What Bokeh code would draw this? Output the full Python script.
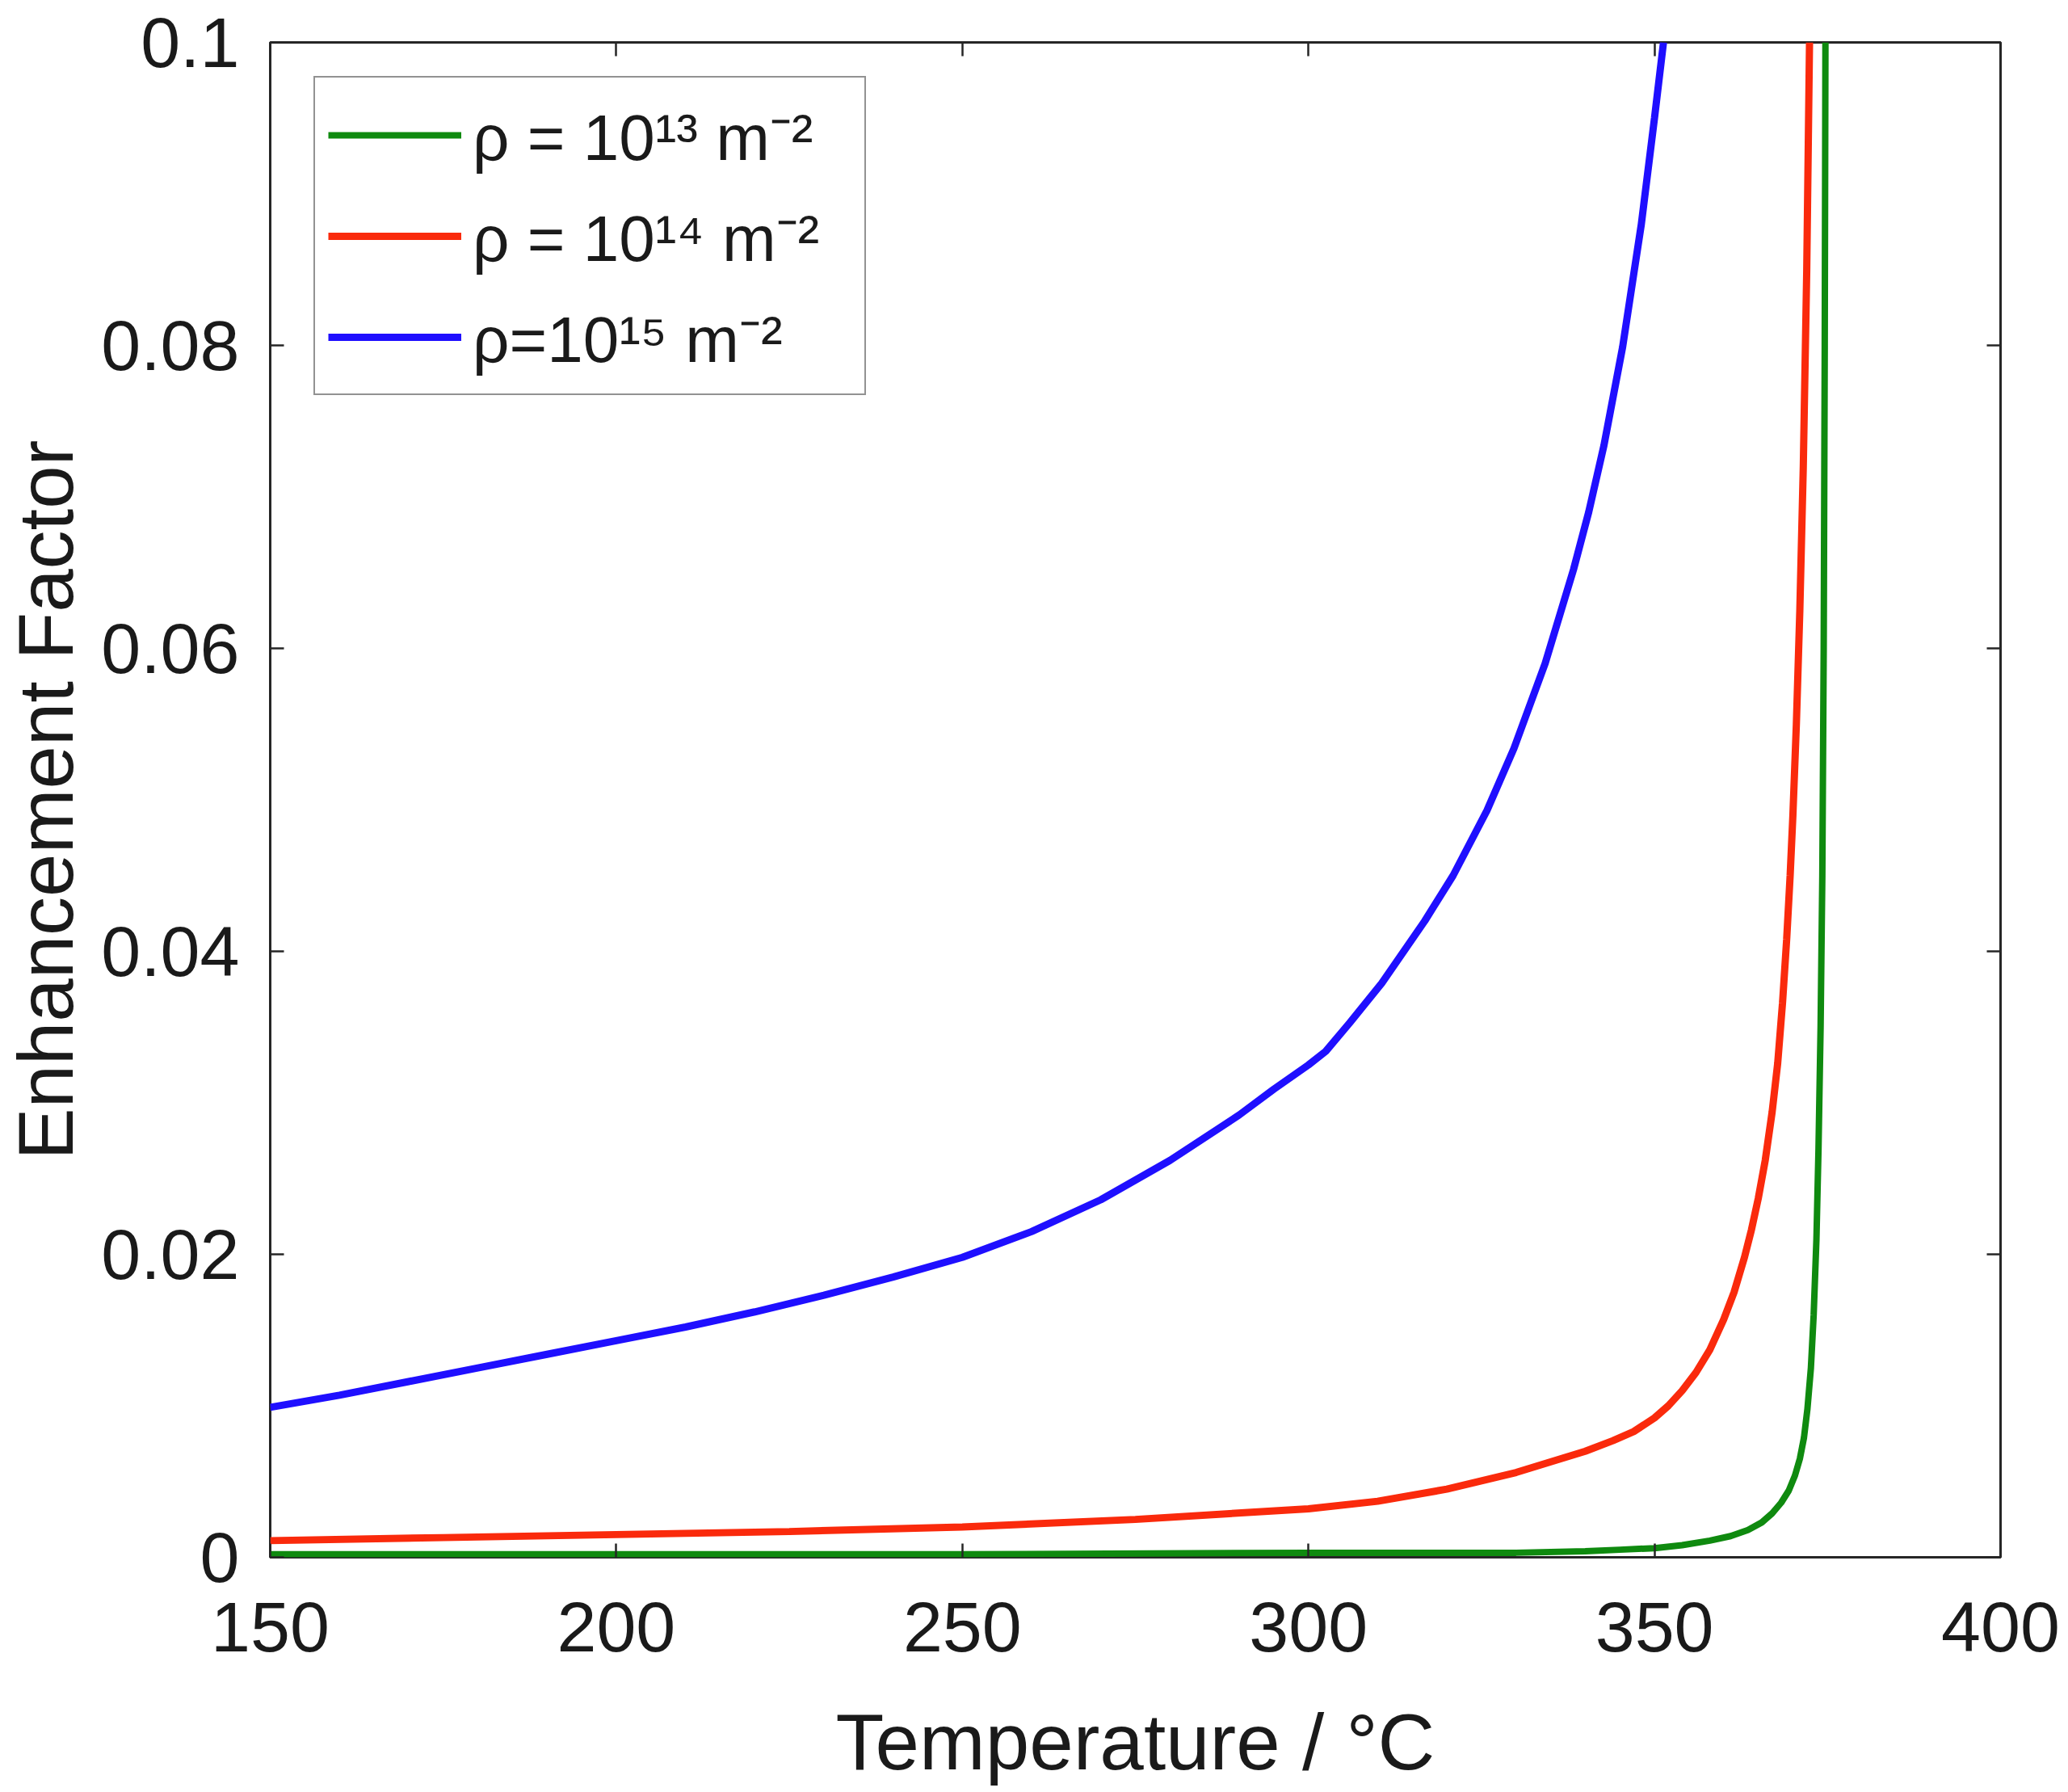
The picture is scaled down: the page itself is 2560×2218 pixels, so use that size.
from bokeh.plotting import figure
from bokeh.models import (LinearAxis, FixedTicker, NumeralTickFormatter, Legend,
                          LegendItem, Range1d)
from bokeh.embed import file_html
from bokeh.resources import INLINE

# ---- data ----
T_green = [150, 200, 250, 300, 330, 340, 345, 350, 354, 358, 361, 363.5, 365.5, 367,
           368.3, 369.4, 370.3, 371.0, 371.6, 372.1, 372.6, 373.0, 373.4, 373.7, 374.0,
           374.25, 374.45, 374.6, 374.7]
E_green = [0.0002, 0.0002, 0.0002, 0.0003, 0.0003, 0.0004, 0.0005, 0.0006, 0.0008,
           0.0011, 0.0014, 0.0018, 0.0023, 0.0029, 0.0036, 0.0044, 0.0054, 0.0065,
           0.0079, 0.0098, 0.0125, 0.0160, 0.0210, 0.0270, 0.0350, 0.0450, 0.0600,
           0.0800, 0.1000]

T_red = [150, 175, 200, 225, 250, 275, 300, 310, 320, 330, 340, 344, 347, 350, 352, 354,
         356, 358, 360, 361.5, 363, 364, 365, 366, 367, 367.8, 368.5, 369.1, 369.6, 370.0,
         370.5, 371.0, 371.5, 372.0, 372.4]
E_red = [0.0011, 0.0013, 0.0015, 0.0017, 0.0020, 0.0025, 0.0032, 0.0037, 0.0045, 0.0056,
         0.0070, 0.0077, 0.0083, 0.0092, 0.0100, 0.0110, 0.0122, 0.0137, 0.0157, 0.0175,
         0.0198, 0.0216, 0.0237, 0.0262, 0.0294, 0.0326, 0.0366, 0.0408, 0.0450, 0.0490,
         0.0550, 0.0625, 0.0720, 0.0850, 0.1000]

T_blue = [150, 160, 170, 180, 190, 200, 210, 220, 230, 240, 250, 260, 270, 280, 290, 295,
          300, 302.5, 306, 310.6, 316.8, 320.9, 325.8, 329.7, 334.2, 338.3, 340.5, 342.7,
          345.4, 348.1, 350.0, 351.3]
E_blue = [0.0099, 0.0107, 0.0116, 0.0125, 0.0134, 0.0143, 0.0152, 0.0162, 0.0173, 0.0185,
          0.0198, 0.0215, 0.0236, 0.0262, 0.0292, 0.0309, 0.0325, 0.0334, 0.0353, 0.0379,
          0.0420, 0.0450, 0.0493, 0.0534, 0.0590, 0.0652, 0.0690, 0.0734, 0.0799, 0.0880,
          0.0950, 0.1000]

labels = ["ρ = 10¹³ m⁻²", "ρ = 10¹⁴ m⁻²", "ρ=10¹⁵ m⁻²"]
colors = ["#0f8a0f", "#fa2a0c", "#1f0fff"]

x_ticks = [150, 200, 250, 300, 350, 400]
y_ticks = [0, 0.02, 0.04, 0.06, 0.08, 0.1]

FONT = "Liberation Sans"
TXT = "#1a1a1a"
FRAME = "#262626"

p = figure(frame_width=2142, frame_height=1875,
           x_range=Range1d(150, 400), y_range=Range1d(0, 0.1),
           output_backend="svg", toolbar_location=None,
           min_border_left=330, min_border_right=80,
           min_border_top=52, min_border_bottom=290,
           background_fill_color="white", border_fill_color="white")
p.grid.visible = False
p.outline_line_color = FRAME
p.outline_line_width = 3

rg = p.line(T_green, E_green, line_color=colors[0], line_width=8)
rr = p.line(T_red, E_red, line_color=colors[1], line_width=9)
rb = p.line(T_blue, E_blue, line_color=colors[2], line_width=9)

xb = p.xaxis[0]
yl = p.yaxis[0]
xb.ticker = FixedTicker(ticks=x_ticks)
yl.ticker = FixedTicker(ticks=y_ticks)
yl.formatter = NumeralTickFormatter(format="0.[00]")
for ax in (xb, yl):
    ax.axis_line_color = None
    ax.major_tick_in = 17
    ax.major_tick_out = 0
    ax.major_tick_line_color = FRAME
    ax.major_tick_line_width = 2.5
    ax.minor_tick_line_color = None
    ax.major_label_text_font = FONT
    ax.major_label_text_color = TXT
    ax.major_label_text_font_size = "88px"
    ax.axis_label_text_font = FONT
    ax.axis_label_text_color = TXT
    ax.axis_label_text_font_style = "normal"

xb.axis_label = "Temperature / °C"
xb.axis_label_text_font_size = "98px"
xb.major_label_standoff = 56
xb.axis_label_standoff = 54

yl.axis_label = "Enhancement Factor"
yl.axis_label_text_font_size = "96px"
yl.major_label_standoff = 38
yl.axis_label_standoff = 12

xt = LinearAxis(ticker=FixedTicker(ticks=x_ticks))
yr = LinearAxis(ticker=FixedTicker(ticks=y_ticks))
for ax in (xt, yr):
    ax.axis_line_color = None
    ax.major_tick_in = 17
    ax.major_tick_out = 0
    ax.major_tick_line_color = FRAME
    ax.major_tick_line_width = 2.5
    ax.minor_tick_line_color = None
    ax.major_label_text_color = None
    ax.major_label_text_font_size = "10px"
    ax.major_label_standoff = 0
p.add_layout(xt, "above")
p.add_layout(yr, "right")

legend = Legend(items=[LegendItem(label=labels[0], renderers=[rg]),
                       LegendItem(label=labels[1], renderers=[rr]),
                       LegendItem(label=labels[2], renderers=[rb])],
                location=(54, 1438))
legend.label_text_font = FONT
legend.label_text_font_size = "80px"
legend.label_text_color = TXT
legend.glyph_width = 165
legend.glyph_height = 108
legend.label_height = 108
legend.label_width = 469
legend.label_standoff = 14
legend.padding = 16
legend.spacing = 16
legend.margin = 0
legend.border_line_color = FRAME
legend.border_line_width = 2.5
legend.background_fill_color = "white"
legend.background_fill_alpha = 1
p.add_layout(legend)

open("out.html", "w").write(file_html(p, INLINE))
